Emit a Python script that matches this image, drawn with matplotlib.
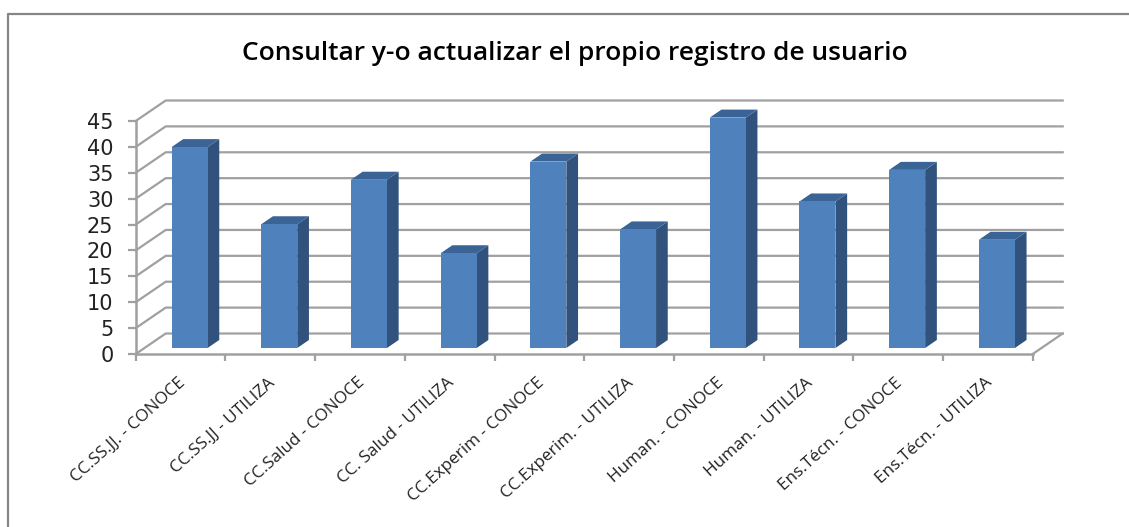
import matplotlib
matplotlib.use('Agg')
import matplotlib.pyplot as plt
from matplotlib.lines import Line2D
from matplotlib.patches import Polygon

# Data
categories = ['CC.SS.JJ. - CONOCE', 'CC.SS.JJ - UTILIZA', 'CC.Salud - CONOCE', 'CC. Salud - UTILIZA',
              'CC.Experim - CONOCE', 'CC.Experim. - UTILIZA', 'Human. - CONOCE', 'Human. - UTILIZA',
              'Ens.Técn. - CONOCE', 'Ens.Técn. - UTILIZA']
values = [38.8, 23.9, 32.5, 18.3, 36.0, 22.9, 44.5, 28.3, 34.4, 20.9]
y_ticks = [0, 5, 10, 15, 20, 25, 30, 35, 40, 45]

W, H = 1129, 527
plt.rcParams['font.family'] = ['Open Sans', 'DejaVu Sans']

fig = plt.figure(figsize=(W / 100, H / 100), dpi=100)

# front plane of the fake 3D box, in pixels
left, right, bottom, top = 135.7, 1032.7, 354.0, 121.0
ax = fig.add_axes([left / W, 1 - bottom / H, (right - left) / W, (bottom - top) / H])
ax.set_xlim(0, len(values))
ax.set_ylim(0, 45)
ax.patch.set_visible(False)

px_x = len(values) / (right - left)
px_y = 45 / (bottom - top)

grid_col = '#a0a0a0'
# wall depth and bar depth
wall_dx, wall_dy = 30 * px_x, 20.5 * px_y
bar_dx, bar_dy = 11.7 * px_x, 8 * px_y
bar_w = 36 * px_x
bar_shift = 9 * px_x
bar_base = 6 * px_y

# walls and floor
for t in y_ticks:
    ax.plot([0, wall_dx, len(values) + wall_dx], [t, t + wall_dy, t + wall_dy],
            color=grid_col, lw=1.6, clip_on=False, zorder=1)
ax.plot([len(values), len(values) + wall_dx], [0, wall_dy], color=grid_col, lw=1.6, clip_on=False, zorder=1)

# bars
for i, v in enumerate(values):
    x0 = i + 0.5 - bar_w / 2 + bar_shift
    x1 = x0 + bar_w
    y0 = bar_base
    y1 = bar_base + v
    ax.add_patch(Polygon([(x1, y0), (x1 + bar_dx, y0 + bar_dy), (x1 + bar_dx, y1 + bar_dy), (x1, y1)],
                         facecolor='#31527c', edgecolor='none', clip_on=False, zorder=3))
    ax.add_patch(Polygon([(x0, y1), (x0 + bar_dx, y1 + bar_dy), (x1 + bar_dx, y1 + bar_dy), (x1, y1)],
                         facecolor='#3a6496', edgecolor='none', clip_on=False, zorder=3))
    ax.bar(x0, v, width=bar_w, bottom=bar_base, align='edge', color='#4f81bd', zorder=4, clip_on=False)

# axes
for s in ['top', 'right']:
    ax.spines[s].set_visible(False)
for s in ['left', 'bottom']:
    ax.spines[s].set_color(grid_col)
    ax.spines[s].set_linewidth(1.8)
    ax.spines[s].set_zorder(2)
ax.set_yticks(y_ticks)
ax.set_xticks(range(len(values) + 1))
ax.set_xticklabels([])
ax.tick_params(axis='y', length=6, width=1.6, color=grid_col, labelsize=15, pad=10, labelcolor='#222222')
for lab in ax.get_yticklabels():
    lab.set_family('DejaVu Sans')
ax.tick_params(axis='x', length=5, width=1.6, color=grid_col, direction='out')
ax.set_xticks([i + 0.5 - 3 * px_x for i in range(len(values))], categories, minor=True)
ax.tick_params(axis='x', which='minor', length=0, pad=15, labelsize=12.3, labelcolor='#222222')
for lab in ax.get_xticklabels(minor=True):
    lab.set_rotation(42)
    lab.set_ha('right')
    lab.set_va('top')
    lab.set_rotation_mode('anchor')

fig.text(575 / W, 1 - 53 / H, 'Consultar y-o actualizar el propio registro de usuario',
         ha='center', va='center', fontsize=19, fontweight='semibold', color='black')

# outer chart frame: only top and left edges are inside the picture
fig.add_artist(Line2D([7.5 / W, 7.5 / W, 1], [0, 1 - 14 / H, 1 - 14 / H], transform=fig.transFigure,
                      color='#868686', lw=1.6))

fig.savefig('out.png', dpi=100, facecolor='white')
